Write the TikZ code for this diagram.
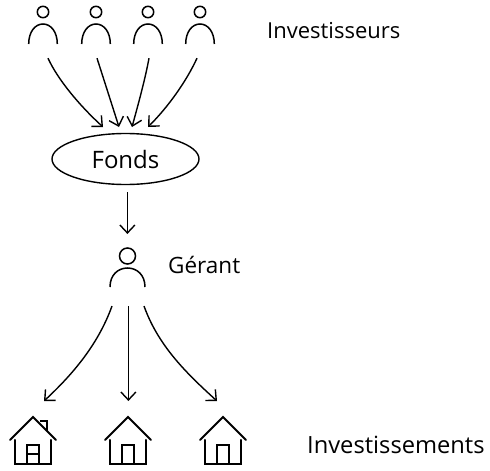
\documentclass[tikz,border=0pt]{standalone}
\usepackage{fontspec}
\setmainfont{Open Sans}
\usetikzlibrary{shapes.geometric,arrows.meta}
\tikzset{
  x=1pt,y=-1pt,
  lab/.style={inner sep=0pt,anchor=base west,font=\fontsize{22.5}{26}\selectfont,text=black},
  slot/.style={inner sep=0pt,minimum width=32pt,minimum height=2pt},
  flow/.style={draw=black,line width=1.4pt,-{Straight Barb[length=8pt,width=15pt,line width=1.4pt]}},
  fig/.style={draw=black,line width=1.5pt},
  roof/.style={draw=black,line width=2.1pt,line join=miter,line cap=round},
  thin part/.style={draw=black,line width=1.3pt},
  person/.pic={
    \draw[fig] (0,-32) circle[radius=5.7];
    \draw[fig] (-14.3,0) .. controls (-14.3,-12) and (-8,-20) .. (0,-20) .. controls (8,-20) and (14.3,-12) .. (14.3,0);
  },
  house/.pic={
    \draw[roof] (-23,0) -- (0,-23) -- (23,0);
    \draw[roof] (-18,0) -- (-18,24) -- (18,24) -- (18,0);
    \draw[thin part] (-6,24) -- (-6,5) -- (6,5) -- (6,24);
  }
}
\begin{document}
\begin{tikzpicture}
\useasboundingbox (0,0) rectangle (490,471);
% investors
\foreach \i/\x in {1/43,2/96,3/148,4/200}{
  \pic at (\x,44) {person};
}
\node[slot] (i1) at (48,57) {};
\node[slot] (i2) at (97,57) {};
\node[slot] (i3) at (149,57) {};
\node[slot] (i4) at (197,57) {};
\node[lab,font=\fontsize{22}{26}\selectfont] (linv) at (267,38) {Investisseurs};
% fund
\node[ellipse,draw=black,line width=1.4pt,minimum width=147pt,minimum height=51pt,inner sep=0pt,font=\fontsize{24}{28}\selectfont] (fonds) at (125.5,159) {Fonds};
\coordinate (t1) at (103,127);
\coordinate (t2) at (119,127);
\coordinate (t3) at (132,127);
\coordinate (t4) at (148,127);
\draw[flow] (i1.south) .. controls (58,80) and (80,106) .. (t1);
\draw[flow] (i2.south) .. controls (104,80) and (112,105) .. (t2);
\draw[flow] (i3.south) .. controls (145,80) and (138,105) .. (t3);
\draw[flow] (i4.south) .. controls (186,82) and (168,107) .. (t4);
% manager
\draw[fig] (127.5,256) circle[radius=8];
\draw[fig] (110,287) .. controls (110,275) and (118,268) .. (127.5,268) .. controls (137,268) and (145,275) .. (145,287);
\node[slot] (g) at (127.5,305) {};
\coordinate (g1) at (112,306);
\coordinate (g2) at (128.4,306);
\coordinate (g3) at (144,306);
\coordinate (gt) at (127.4,234);
\draw[flow] (127.4,192) -- (gt);
\node[lab] (lger) at (168,273) {Gérant};
% houses
\pic at (33,440) {house};
\draw[thin part] (27,454) -- (39,454);
\draw[thin part] (40,421) -- (47,421) -- (47,431);
\pic at (128,440) {house};
\pic at (223,440) {house};
\coordinate (h1) at (44,401);
\coordinate (h2) at (128.4,401);
\coordinate (h3) at (217,401);
\draw[flow] (g1) .. controls (98,345) and (72,375) .. (h1);
\draw[flow] (g2) -- (h2);
\draw[flow] (g3) .. controls (158,345) and (185,372) .. (h3);
\node[lab,font=\fontsize{23.7}{28}\selectfont] (lhou) at (307,453) {Investissements};
\end{tikzpicture}
\end{document}
